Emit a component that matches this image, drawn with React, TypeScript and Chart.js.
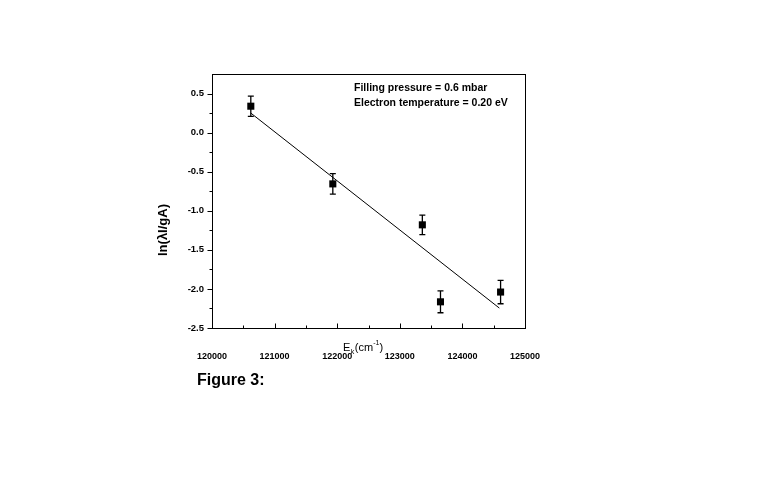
import React, { useEffect, useRef } from "react";
import { Chart, registerables } from "chart.js";

Chart.register(...registerables);

// ---- data ----
const energies = [120620, 121930, 123360, 123650, 124610];
const lnValues = [0.338, -0.656, -1.18, -2.165, -2.04];
const lnErrors = [0.13, 0.13, 0.125, 0.14, 0.15];
const fitEnergies = [120620, 124590];
const fitValues = [0.25, -2.245];
const yMajorTicks = [-2.5, -2.0, -1.5, -1.0, -0.5, 0.0, 0.5];
const yMinorTicks = [-2.25, -1.75, -1.25, -0.75, -0.25, 0.25];
const xMajorTicks = [120000, 121000, 122000, 123000, 124000, 125000];
const xMinorTicks = [120500, 121500, 122500, 123500, 124500];
const yAxisTitle = "ln(λI/gA)";
const xTitleMain = "E";
const xTitleSub = "k";
const xTitleMid = "(cm";
const xTitleSup = "-1";
const xTitleEnd = ")";
const annotationLines = ["Filling pressure = 0.6 mbar", "Electron temperature = 0.20 eV"];
const figureCaption = "Figure 3:";

const FONT = "'Liberation Sans', Arial, Helvetica, sans-serif";

const decorPlugin = {
  id: "decor",
  beforeDatasetsDraw(chart: any) {
    const { ctx, scales } = chart;
    const x = scales.x;
    const y = scales.y;
    ctx.save();
    ctx.strokeStyle = "#000";
    ctx.lineWidth = 1.3;
    energies.forEach((e, i) => {
      const px = x.getPixelForValue(e);
      const top = y.getPixelForValue(lnValues[i] + lnErrors[i]);
      const bot = y.getPixelForValue(lnValues[i] - lnErrors[i]);
      ctx.beginPath();
      ctx.moveTo(px, top);
      ctx.lineTo(px, bot);
      ctx.moveTo(px - 3, top);
      ctx.lineTo(px + 3, top);
      ctx.moveTo(px - 3, bot);
      ctx.lineTo(px + 3, bot);
      ctx.stroke();
    });
    ctx.restore();
  },
  afterDraw(chart: any) {
    const { ctx, chartArea: a, scales } = chart;
    const x = scales.x;
    const y = scales.y;
    ctx.save();
    ctx.strokeStyle = "#000";
    ctx.lineWidth = 1;
    const L = Math.round(a.left) + 0.5;
    const R = Math.round(a.right) + 0.5;
    const T = Math.round(a.top) + 0.5;
    const B = Math.round(a.bottom) + 0.5;
    ctx.strokeRect(L, T, R - L, B - T);

    ctx.beginPath();
    yMajorTicks.forEach((v) => {
      const py = Math.round(y.getPixelForValue(v)) + 0.5;
      ctx.moveTo(L - 5, py);
      ctx.lineTo(L, py);
    });
    yMinorTicks.forEach((v) => {
      const py = Math.round(y.getPixelForValue(v)) + 0.5;
      ctx.moveTo(L - 3, py);
      ctx.lineTo(L, py);
    });
    xMajorTicks.forEach((v) => {
      const px = Math.round(x.getPixelForValue(v)) + 0.5;
      ctx.moveTo(px, B);
      ctx.lineTo(px, B - 5);
    });
    xMinorTicks.forEach((v) => {
      const px = Math.round(x.getPixelForValue(v)) + 0.5;
      ctx.moveTo(px, B);
      ctx.lineTo(px, B - 3);
    });
    ctx.stroke();

    ctx.fillStyle = "#000";
    // y title
    ctx.save();
    ctx.translate(163, 230);
    ctx.rotate(-Math.PI / 2);
    ctx.font = `bold 13px ${FONT}`;
    ctx.textAlign = "center";
    ctx.textBaseline = "middle";
    ctx.fillText(yAxisTitle, 0, 0);
    ctx.restore();

    // x title with subscript / superscript
    ctx.textAlign = "left";
    ctx.textBaseline = "alphabetic";
    let cx = 343;
    const base = 351;
    ctx.font = `11px ${FONT}`;
    ctx.fillText(xTitleMain, cx, base);
    cx += ctx.measureText(xTitleMain).width;
    ctx.font = `7px ${FONT}`;
    ctx.fillText(xTitleSub, cx + 0.5, base + 3);
    cx += ctx.measureText(xTitleSub).width + 1;
    ctx.font = `11px ${FONT}`;
    ctx.fillText(xTitleMid, cx, base);
    cx += ctx.measureText(xTitleMid).width;
    ctx.font = `7px ${FONT}`;
    ctx.fillText(xTitleSup, cx, base - 6);
    cx += ctx.measureText(xTitleSup).width;
    ctx.font = `11px ${FONT}`;
    ctx.fillText(xTitleEnd, cx, base);

    // annotation
    ctx.font = `bold 10.5px ${FONT}`;
    ctx.textBaseline = "middle";
    annotationLines.forEach((t, i) => {
      ctx.fillText(t, 354, 88 + i * 15);
    });

    // caption
    ctx.font = `bold 16px ${FONT}`;
    ctx.fillText(figureCaption, 197, 381);
    ctx.restore();
  },
};

export default function App() {
  const ref = useRef<HTMLCanvasElement | null>(null);
  useEffect(() => {
    if (!ref.current) return;
    const chart = new Chart(ref.current, {
      type: "scatter",
      data: {
        datasets: [
          {
            label: "data",
            data: energies.map((e, i) => ({ x: e, y: lnValues[i] })),
            pointStyle: "rect",
            pointRadius: 5,
            pointBackgroundColor: "#000",
            pointBorderColor: "#000",
            pointBorderWidth: 0,
            showLine: false,
          },
          {
            label: "fit",
            data: fitEnergies.map((e, i) => ({ x: e, y: fitValues[i] })),
            showLine: true,
            pointRadius: 0,
            borderColor: "#000",
            borderWidth: 1,
          },
        ],
      },
      options: {
        responsive: false,
        animation: false,
        devicePixelRatio: 1,
        layout: { padding: { left: 0, top: 74, right: 243, bottom: 0 } },
        plugins: { legend: { display: false }, tooltip: { enabled: false } },
        scales: {
          x: {
            type: "linear",
            min: 120000,
            max: 125000,
            afterFit: (s: any) => {
              s.height = 152;
            },
            grid: { display: false, drawTicks: false },
            border: { display: false },
            ticks: {
              stepSize: 1000,
              includeBounds: false,
              padding: 23,
              maxRotation: 0,
              color: "#000",
              font: { family: FONT, size: 9, weight: "bold" },
              callback: (v: any) => String(v),
            },
          },
          y: {
            type: "linear",
            min: -2.5,
            max: 0.75,
            afterFit: (s: any) => {
              s.width = 212;
            },
            grid: { display: false, drawTicks: false },
            border: { display: false },
            ticks: {
              stepSize: 0.5,
              includeBounds: false,
              padding: 8,
              color: "#000",
              font: { family: FONT, size: 9.5, weight: "bold" },
              callback: (v: any) => Number(v).toFixed(1),
            },
          },
        },
      },
      plugins: [decorPlugin],
    } as any);
    return () => chart.destroy();
  }, []);
  return (
    <div style={{ position: "absolute", left: 0, top: 0, width: 768, height: 480, background: "#fff" }}>
      <canvas ref={ref} width={768} height={480} style={{ display: "block" }} />
    </div>
  );
}
